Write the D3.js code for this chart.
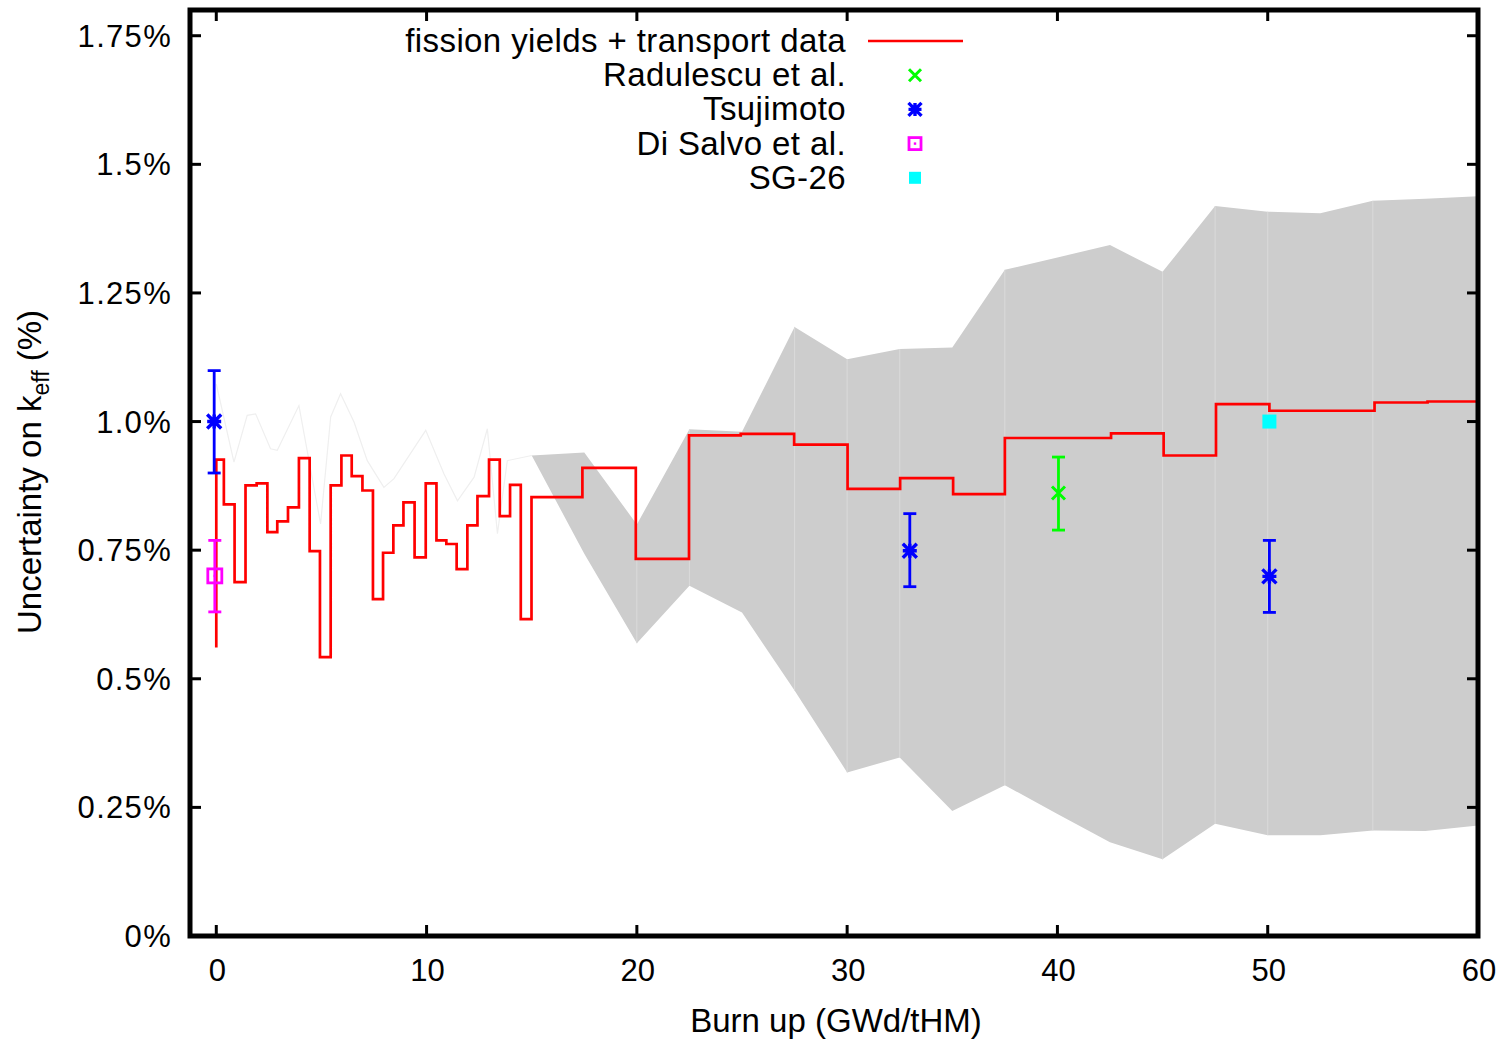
<!DOCTYPE html>
<html>
<head>
<meta charset="utf-8">
<script src="https://cdn.jsdelivr.net/npm/d3@7"></script>
<style>
  html, body { margin: 0; padding: 0; background: #fff; }
  svg { display: block; font-family: "Liberation Sans", Arial, sans-serif; }
</style>
</head>
<body>
<svg id="chart" width="1510" height="1040"></svg>
<script>
// ---------- data ----------
const xTicks = [0, 10, 20, 30, 40, 50, 60];
const yTicks = [0, 0.25, 0.5, 0.75, 1.0, 1.25, 1.5, 1.75];
const yTickLabels = ["0%", "0.25%", "0.5%", "0.75%", "1.0%", "1.25%", "1.5%", "1.75%"];

// fission yields + transport data (step line)
const stepX = [0, 0, 0.36, 0.87, 1.39, 1.92, 2.43, 2.90, 3.41, 3.93, 4.44, 4.93, 5.44, 5.95, 6.44, 6.95,
  7.45, 7.93, 8.42, 8.90, 9.43, 9.96, 10.47, 10.94, 11.43, 11.94, 12.42, 12.97, 13.48, 13.97, 14.48,
  14.99, 17.41, 19.95, 22.48, 24.94, 27.48, 30.02, 32.52, 35.04, 37.50, 42.55, 45.05, 47.54, 50.08,
  55.08, 57.6, 60];
const stepY = [0.561, 0.926, 0.839, 0.688, 0.876, 0.880, 0.785, 0.806, 0.833, 0.929, 0.748, 0.542,
  0.876, 0.934, 0.894, 0.866, 0.655, 0.745, 0.798, 0.843, 0.736, 0.880, 0.769, 0.762, 0.713, 0.798,
  0.855, 0.926, 0.816, 0.877, 0.616, 0.853, 0.910, 0.733, 0.973, 0.976, 0.955, 0.869, 0.890, 0.859,
  0.968, 0.977, 0.934, 1.034, 1.021, 1.037, 1.039, 1.039];

// uncertainty band
const bandX = [15, 17.5, 20, 22.5, 25, 27.5, 30, 32.5, 35, 37.5, 40, 42.5, 45, 47.5, 50, 52.5, 55, 57.5, 60];
const bandHigh = [0.934, 0.940, 0.800, 0.985, 0.980, 1.184, 1.121, 1.141, 1.144, 1.295, 1.319, 1.343,
  1.291, 1.419, 1.408, 1.405, 1.429, 1.433, 1.438];
const bandLow = [0.934, 0.743, 0.569, 0.681, 0.629, 0.477, 0.318, 0.347, 0.243, 0.293, 0.237, 0.182,
  0.149, 0.218, 0.196, 0.196, 0.205, 0.204, 0.215];
const bandSeams = [20, 22.5, 27.5, 30, 32.5, 37.5, 45, 47.5, 50, 55];

// faint early band trace
const faintX = [0, 0.84, 1.47, 1.87, 2.58, 2.90, 3.93, 4.96, 5.44, 5.91, 6.55, 7.18, 7.97, 8.45, 9.96,
  10.83, 11.47, 12.26, 12.89, 13.37, 13.84, 15];
const faintY = [1.073, 0.921, 1.012, 1.015, 0.947, 0.944, 1.031, 0.801, 1.009, 1.054, 0.999, 0.924,
  0.872, 0.889, 0.983, 0.898, 0.846, 0.892, 0.986, 0.782, 0.924, 0.934];

// measured points
const radulescuX = [40.05], radulescuY = [0.861], radulescuLo = [0.789], radulescuHi = [0.931];
const tsujimotoX = [-0.1, 32.98, 50.08], tsujimotoY = [1.0, 0.749, 0.699],
      tsujimotoLo = [0.900, 0.679, 0.629], tsujimotoHi = [1.099, 0.821, 0.769];
const disalvoX = [-0.07], disalvoY = [0.70], disalvoLo = [0.63], disalvoHi = [0.769];
const sg26X = [50.08], sg26Y = [1.0];

const legendLabels = ["fission yields + transport data", "Radulescu et al.", "Tsujimoto", "Di Salvo et al.", "SG-26"];

// ---------- layout ----------
const svg = d3.select("#chart");
const L = 190, R = 1478, T = 10, B = 936;
const x = d3.scaleLinear().domain([-1.25, 60]).range([L, R]);
const y = d3.scaleLinear().domain([0, 1.8]).range([B, T]);

const RED = "#ff0000", GREEN = "#00ff00", BLUE = "#0000ff", MAGENTA = "#ff00ff", CYAN = "#00ffff";

const plot = svg.append("g");
plot.append("clipPath").attr("id", "clip").append("rect")
  .attr("x", L).attr("y", T).attr("width", R - L).attr("height", B - T);
const g = plot.append("g").attr("clip-path", "url(#clip)");

// faint trace
g.append("path")
  .datum(faintX.map((d, i) => [d, faintY[i]]))
  .attr("d", d3.line().x(d => x(d[0])).y(d => y(d[1])))
  .attr("fill", "none").attr("stroke", "#efefef").attr("stroke-width", 1.2);

// band
const bandData = bandX.map((d, i) => ({ x: d, lo: bandLow[i], hi: bandHigh[i] }));
g.append("path")
  .datum(bandData)
  .attr("d", d3.area().x(d => x(d.x)).y0(d => y(d.lo)).y1(d => y(d.hi)))
  .attr("fill", "#cdcdcd");
g.selectAll("line.seam")
  .data(bandData.filter(d => bandSeams.includes(d.x)))
  .join("line").attr("class", "seam")
  .attr("x1", d => x(d.x)).attr("x2", d => x(d.x))
  .attr("y1", d => y(d.lo)).attr("y2", d => y(d.hi))
  .attr("stroke", "#dadada").attr("stroke-width", 1);

// red step line
g.append("path")
  .datum(stepX.map((d, i) => [d, stepY[i]]))
  .attr("d", d3.line().curve(d3.curveStepAfter).x(d => x(d[0])).y(d => y(d[1])))
  .attr("fill", "none").attr("stroke", RED).attr("stroke-width", 2.7);

// marker helpers
function errorBars(sel, xs, lo, hi, color) {
  xs.forEach((xv, i) => {
    const cx = x(xv);
    sel.append("line").attr("x1", cx).attr("x2", cx).attr("y1", y(lo[i])).attr("y2", y(hi[i]))
      .attr("stroke", color).attr("stroke-width", 2.8);
    [lo[i], hi[i]].forEach(v => {
      sel.append("line").attr("x1", cx - 6.5).attr("x2", cx + 6.5).attr("y1", y(v)).attr("y2", y(v))
        .attr("stroke", color).attr("stroke-width", 2.8);
    });
  });
}
function cross(sel, cx, cy, color, s) {
  sel.append("path").attr("d", `M${cx - s},${cy - s}L${cx + s},${cy + s}M${cx - s},${cy + s}L${cx + s},${cy - s}`)
    .attr("stroke", color).attr("stroke-width", 3).attr("fill", "none");
}
function star(sel, cx, cy, color, s) {
  sel.append("path").attr("d",
    `M${cx - s},${cy - s}L${cx + s},${cy + s}M${cx - s},${cy + s}L${cx + s},${cy - s}M${cx - s},${cy}L${cx + s},${cy}M${cx},${cy - s}L${cx},${cy + s}`)
    .attr("stroke", color).attr("stroke-width", 3.4).attr("fill", "none");
}
function openSquare(sel, cx, cy, color, s) {
  sel.append("rect").attr("x", cx - s).attr("y", cy - s).attr("width", 2 * s).attr("height", 2 * s)
    .attr("fill", "none").attr("stroke", color).attr("stroke-width", 2.8);
  sel.append("rect").attr("x", cx - 1.2).attr("y", cy - 1.2).attr("width", 2.4).attr("height", 2.4).attr("fill", color);
}
function filledSquare(sel, cx, cy, color, s) {
  sel.append("rect").attr("x", cx - s).attr("y", cy - s).attr("width", 2 * s).attr("height", 2 * s).attr("fill", color);
}

const m = plot.append("g");
errorBars(m, radulescuX, radulescuLo, radulescuHi, GREEN);
radulescuX.forEach((d, i) => cross(m, x(d), y(radulescuY[i]), GREEN, 6.5));
errorBars(m, tsujimotoX, tsujimotoLo, tsujimotoHi, BLUE);
tsujimotoX.forEach((d, i) => star(m, x(d), y(tsujimotoY[i]), BLUE, 7));
errorBars(m, disalvoX, disalvoLo, disalvoHi, MAGENTA);
disalvoX.forEach((d, i) => openSquare(m, x(d), y(disalvoY[i]), MAGENTA, 7));
sg26X.forEach((d, i) => filledSquare(m, x(d), y(sg26Y[i]), CYAN, 7));

// ---------- frame & axes ----------
const axes = svg.append("g");
const tickLen = 11;
xTicks.forEach(t => {
  axes.append("line").attr("x1", x(t)).attr("x2", x(t)).attr("y1", B).attr("y2", B - tickLen)
    .attr("stroke", "#000").attr("stroke-width", 3);
  axes.append("line").attr("x1", x(t)).attr("x2", x(t)).attr("y1", T).attr("y2", T + tickLen)
    .attr("stroke", "#000").attr("stroke-width", 3);
  axes.append("text").attr("x", x(t) + 1).attr("y", 981).attr("text-anchor", "middle")
    .attr("font-size", 31).attr("fill", "#000").text(t);
});
yTicks.forEach((t, i) => {
  axes.append("line").attr("x1", L).attr("x2", L + tickLen).attr("y1", y(t)).attr("y2", y(t))
    .attr("stroke", "#000").attr("stroke-width", 3);
  axes.append("line").attr("x1", R).attr("x2", R - tickLen).attr("y1", y(t)).attr("y2", y(t))
    .attr("stroke", "#000").attr("stroke-width", 3);
  axes.append("text").attr("x", 172).attr("y", y(t) + 11).attr("text-anchor", "end")
    .attr("font-size", 31).attr("letter-spacing", 1.3).attr("fill", "#000").text(yTickLabels[i]);
});
axes.append("rect").attr("x", L).attr("y", T).attr("width", R - L).attr("height", B - T)
  .attr("fill", "none").attr("stroke", "#000").attr("stroke-width", 5);

// axis titles
axes.append("text").attr("x", 836).attr("y", 1032).attr("text-anchor", "middle")
  .attr("font-size", 33).attr("fill", "#000").text("Burn up (GWd/tHM)");
const yt = axes.append("text").attr("transform", "translate(41,472) rotate(-90)")
  .attr("text-anchor", "middle").attr("font-size", 33).attr("fill", "#000");
yt.append("tspan").text("Uncertainty on k");
yt.append("tspan").attr("font-size", 23).attr("dy", 8).text("eff");
yt.append("tspan").attr("dy", -8).text(" (%)");

// ---------- legend ----------
const leg = svg.append("g");
const legTextX = 846, legSymX = 915, legY0 = 41, legDy = 34.2;
legendLabels.forEach((lab, i) => {
  leg.append("text").attr("x", legTextX).attr("y", legY0 + i * legDy + 11).attr("text-anchor", "end")
    .attr("font-size", 33).attr("letter-spacing", 0.4).attr("fill", "#000").text(lab);
});
leg.append("line").attr("x1", 868).attr("x2", 963).attr("y1", legY0).attr("y2", legY0)
  .attr("stroke", RED).attr("stroke-width", 2.7);
cross(leg, legSymX, legY0 + legDy, GREEN, 6);
star(leg, legSymX, legY0 + 2 * legDy, BLUE, 6.5);
openSquare(leg, legSymX, legY0 + 3 * legDy, MAGENTA, 6);
filledSquare(leg, legSymX, legY0 + 4 * legDy, CYAN, 6);
</script>
</body>
</html>
